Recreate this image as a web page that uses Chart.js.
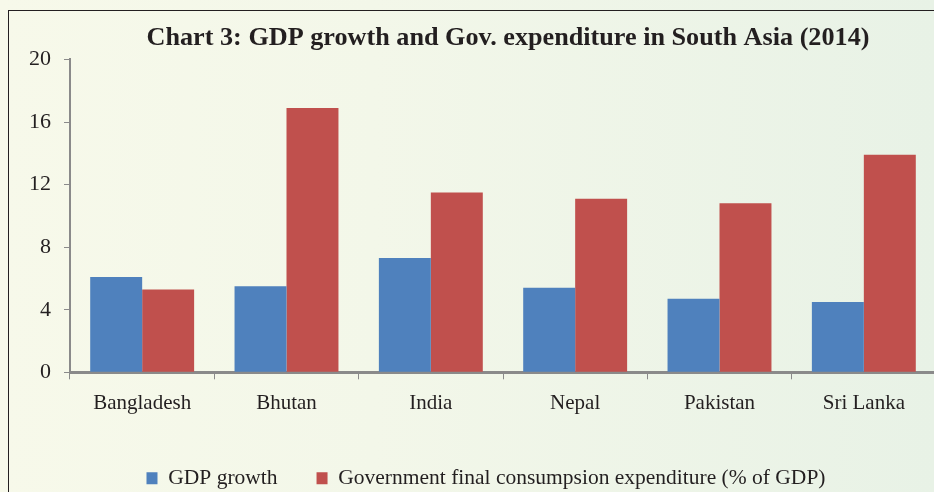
<!DOCTYPE html>
<html>
<head>
<meta charset="utf-8">
<script src="https://cdn.jsdelivr.net/npm/chart.js@4.4.1/dist/chart.umd.min.js"></script>
<style>
  html, body { margin: 0; padding: 0; width: 934px; height: 492px; overflow: hidden;
    background: linear-gradient(to right, #F7F9EA 0%, #F3F7E9 40%, #E8F2E6 100%); }
  #frame { position: absolute; left: 8px; top: 10px; width: 940px; height: 500px;
    border-left: 1px solid #231f20; border-top: 1px solid #231f20; overflow: hidden; }
  #c { position: absolute; left: 0; top: 0; }
</style>
</head>
<body>
<div id="frame"><canvas id="c" width="960" height="488"></canvas></div>
<script>
const chartTitle = 'Chart 3: GDP growth and Gov. expenditure in South Asia (2014)';
const categories = ['Bangladesh', 'Bhutan', 'India', 'Nepal', 'Pakistan', 'Sri Lanka'];
const seriesNames = ['GDP growth', 'Government final consumpsion expenditure (% of GDP)'];
const gdpGrowth = [6.1, 5.5, 7.3, 5.4, 4.7, 4.5];
const govExpenditure = [5.3, 16.9, 11.5, 11.1, 10.8, 13.9];
const yTicks = [0, 4, 8, 12, 16, 20];

const FONT = 'Liberation Serif';
const TXT = '#231f20';
const AXIS = '#8a8a8a';

// shift the title and legend blocks sideways to match the original's placement
const nudgeBlocks = {
  id: 'nudgeBlocks',
  afterLayout(chart) {
    if (chart.legend) { chart.legend.left += 10; chart.legend.right += 10; }
    if (chart.titleBlock) { chart.titleBlock.left += 5; chart.titleBlock.right += 5; }
  }
};

new Chart(document.getElementById('c'), {
  type: 'bar',
  data: {
    labels: categories,
    datasets: [
      { label: seriesNames[0], data: gdpGrowth, backgroundColor: '#4F81BD', borderWidth: 0,
        categoryPercentage: 0.72, barPercentage: 1.0 },
      { label: seriesNames[1], data: govExpenditure, backgroundColor: '#C0504D', borderWidth: 0,
        categoryPercentage: 0.72, barPercentage: 1.0 }
    ]
  },
  plugins: [nudgeBlocks],
  options: {
    responsive: false,
    maintainAspectRatio: false,
    animation: false,
    layout: { padding: { left: 7, right: 33, top: 0, bottom: 0 } },
    plugins: {
      title: {
        display: true, text: chartTitle, fullSize: false, color: TXT,
        font: { family: FONT, size: 26.2, weight: 'bold' },
        padding: { top: 12, bottom: 5 }
      },
      legend: {
        position: 'bottom',
        labels: {
          boxWidth: 11, boxHeight: 12, padding: 39, color: TXT,
          font: { family: FONT, size: 21.5 }
        }
      },
      tooltip: { enabled: false }
    },
    scales: {
      x: {
        z: 1,
        grid: { display: true, offset: true, drawOnChartArea: false, drawTicks: true,
                tickLength: 7, color: AXIS, lineWidth: 1 },
        border: { display: true, color: AXIS, width: 3 },
        ticks: { color: TXT, padding: 12, font: { family: FONT, size: 21 }, maxRotation: 0 }
      },
      y: {
        min: 0, max: 20,
        afterBuildTicks: (scale) => { scale.ticks = yTicks.map(v => ({ value: v })); },
        grid: { display: true, drawOnChartArea: false, drawTicks: true,
                tickLength: 6, color: AXIS, lineWidth: 1 },
        border: { display: true, color: AXIS, width: 2 },
        ticks: { color: TXT, padding: 13, font: { family: FONT, size: 22 } }
      }
    }
  }
});
</script>
</body>
</html>
